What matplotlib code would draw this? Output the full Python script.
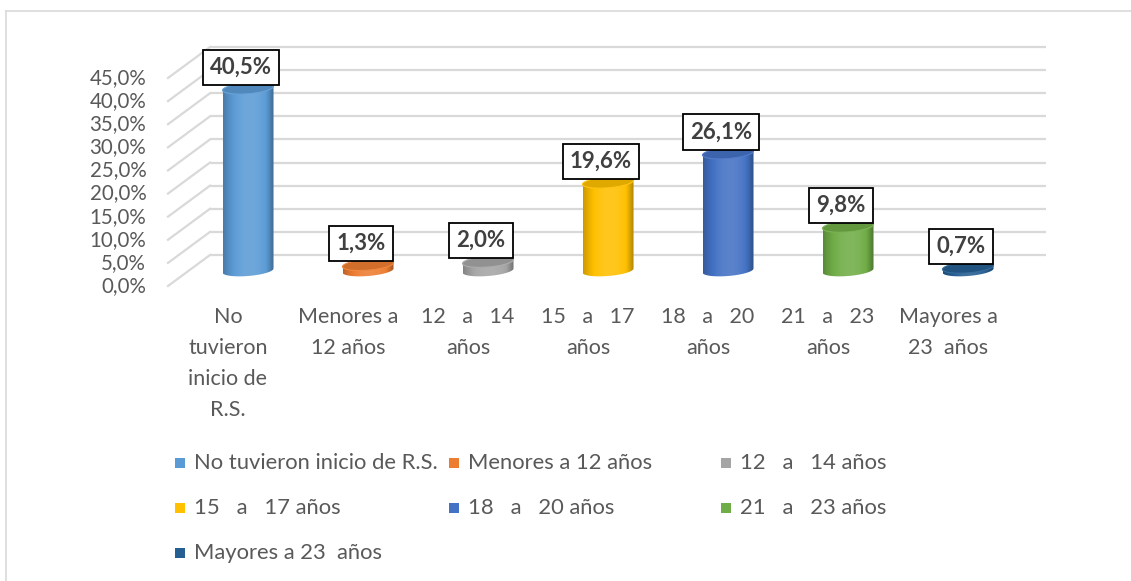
import numpy as np
import matplotlib
matplotlib.use("Agg")
import matplotlib.pyplot as plt
from matplotlib.patches import Polygon, Rectangle
from matplotlib.lines import Line2D
import matplotlib.colors as mcolors

# ---------------- data ----------------
categories = ["No\ntuvieron\ninicio de\nR.S.", "Menores a\n12 años", "12   a   14\naños",
              "15   a   17\naños", "18   a   20\naños", "21   a   23\naños", "Mayores a\n23  años"]
legend_labels = ["No tuvieron inicio de R.S.", "Menores a 12 años", "12   a   14 años",
                 "15   a   17 años", "18   a   20 años", "21   a   23 años", "Mayores a 23  años"]
values = [40.5, 1.3, 2.0, 19.6, 26.1, 9.8, 0.7]
value_labels = ["40,5%", "1,3%", "2,0%", "19,6%", "26,1%", "9,8%", "0,7%"]
colors = ["#5B9BD5", "#ED7D31", "#A5A5A5", "#FFC000", "#4472C4", "#70AD47", "#255E91"]
yticks = [0, 5, 10, 15, 20, 25, 30, 35, 40, 45]
ytick_labels = ["0,0%", "5,0%", "10,0%", "15,0%", "20,0%", "25,0%", "30,0%", "35,0%", "40,0%", "45,0%"]

FONT = ["Lato", "DejaVu Sans"]
plt.rcParams['font.family'] = FONT
TXT = "#595959"

W, H = 1131, 581
fig = plt.figure(figsize=(W / 100, H / 100), dpi=100)
fig.patch.set_facecolor("white")

def fx(px):
    return px / W

def fy(py):
    return 1 - py / H

# chart border (top and left visible)
fig.add_artist(Line2D([fx(6), 1.0], [fy(11), fy(11)], color="#D9D9D9", lw=1.2))
fig.add_artist(Line2D([fx(6), fx(6)], [fy(11), 0.0], color="#D9D9D9", lw=1.2))

# ---------------- back wall axes (gridlines) ----------------
wl, wr, wb, wt = 210, 1046, 255, 47
axw = fig.add_axes([fx(wl), fy(wb), fx(wr) - fx(wl), fy(wt) - fy(wb)])
axw.set_xlim(0, 1)
axw.set_ylim(0, 45)
axw.axis("off")
front_dx = -42 / (wr - wl)        # front edge offset (axes x units)
front_dy = -31 / ((wb - wt) / 45)  # front edge offset (data y units)
for v, lab in zip(yticks, ytick_labels):
    axw.plot([0, 1], [v, v], color="#D9D9D9", lw=1.6, solid_capstyle="butt", clip_on=False)
    axw.plot([front_dx, 0], [v + front_dy, v], color="#D9D9D9", lw=1.6, clip_on=False)
    axw.text(front_dx - 0.026, v + front_dy, lab, ha="right", va="center",
             fontsize=14.8, color=TXT)

# ---------------- bar axes ----------------
x0px, pxu = 248, 120       # bar centre of first category, spacing
base_px, pyu = 270.5, 4.5  # base of bars, px per percent
axb = fig.add_axes([fx(x0px - 0.5 * pxu), fy(base_px),
                    7 * pxu / W, 45 * pyu / H])
axb.set_xlim(-0.5, 6.5)
axb.set_ylim(0, 45)
axb.axis("off")

hw = 25.5 / pxu            # half width of cylinder
eb = 5.5 / pyu             # ellipse half height
skew = (4 / pyu) / (51 / pxu)  # right side higher

def shade(c, f):
    c = np.array(mcolors.to_rgb(c))
    if f >= 1:
        return np.clip(c + (1 - c) * (f - 1), 0, 1)
    return c * f

t = np.linspace(0, np.pi, 60)
for i, (v, c) in enumerate(zip(values, colors)):
    cx = i
    xs = cx - hw * np.cos(t)           # left -> right
    yb = 0 - eb * np.sin(t) + skew * (xs - cx)
    yt_line = v + skew * (xs[::-1] - cx)
    body = np.column_stack([np.concatenate([xs, xs[::-1]]),
                            np.concatenate([yb, yt_line])])
    poly = Polygon(body, closed=True, facecolor="none", edgecolor="none", clip_on=False)
    axb.add_patch(poly)
    u = np.linspace(0, 1, 80)
    fac = 0.70 + 0.42 * np.sin(np.pi * np.clip(u * 0.85 + 0.05, 0, 1)) ** 0.8
    fac = np.where(u > 0.85, fac - (u - 0.85) * 1.2, fac)
    grad = np.array([shade(c, f) for f in fac])[None, :, :]
    im = axb.imshow(grad, extent=[cx - hw, cx + hw, -2 * eb - 1, v + 2 * eb],
                    aspect="auto", interpolation="bilinear", origin="lower", zorder=2)
    im.set_clip_box(fig.bbox)
    im.set_clip_path(poly)
    tt = np.linspace(0, 2 * np.pi, 120)
    ex = cx + hw * np.cos(tt)
    ey = v + eb * np.sin(tt) + skew * (ex - cx)
    axb.add_patch(Polygon(np.column_stack([ex, ey]), closed=True,
                          facecolor=shade(c, 0.88), edgecolor=shade(c, 1.08),
                          lw=0.8, zorder=3, clip_on=False))
    axb.annotate(value_labels[i], xy=(cx, v), xytext=(-7, 21), textcoords="offset pixels",
                 ha="center", va="center", fontsize=16, fontweight="bold", color="#404040",
                 bbox=dict(boxstyle="square,pad=0.32", facecolor="white", edgecolor="black", lw=1.3),
                 zorder=5, annotation_clip=False)
    axb.text(cx - 20 / pxu, -36.5 / pyu, categories[i], ha="center", va="top",
             fontsize=15.5, color=TXT, linespacing=1.68, multialignment="center")

# ---------------- legend (row-wise, Excel style) ----------------
col_x = [175, 449, 721]
row_y = [463, 508, 553]
for k, (lab, c) in enumerate(zip(legend_labels, colors)):
    r, cc = divmod(k, 3)
    mx, my = col_x[cc], row_y[r]
    fig.add_artist(Rectangle((fx(mx), fy(my + 5)), 10 / W, 10 / H, transform=fig.transFigure,
                             facecolor=c, edgecolor="none"))
    fig.text(fx(mx + 19), fy(my), lab, ha="left", va="center", fontsize=15.8, color=TXT)

fig.savefig("out.png", dpi=100)
